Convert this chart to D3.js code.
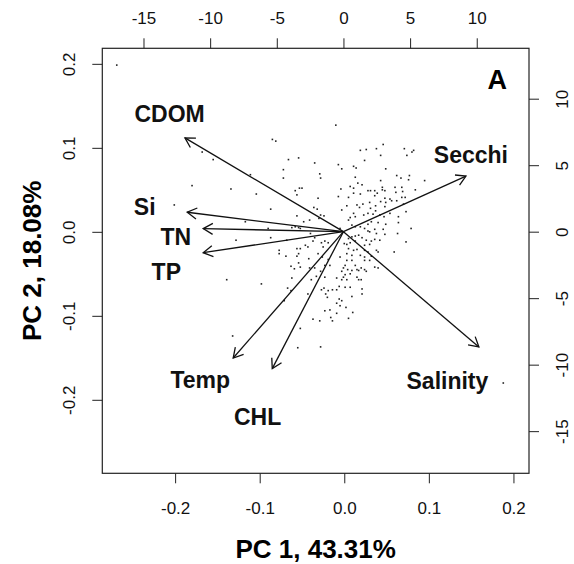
<!DOCTYPE html>
<html>
<head>
<meta charset="utf-8">
<script src="https://cdn.jsdelivr.net/npm/d3@7"></script>
<style>
  body { margin: 0; background: #fff; }
  text { font-family: "Liberation Sans", Arial, Helvetica, sans-serif; }
</style>
</head>
<body>
<div id="chart"></div>
<script>
// PCA scores (primary axes, bottom / left)
var scoreX = [-0.269,0.188,-0.180,-0.201,-0.168,-0.155,
  -0.085,-0.081,-0.066,-0.054,-0.035,-0.072,-0.029,-0.028,-0.072,-0.111,-0.134,-0.104,-0.058,-0.053,-0.050,-0.056,-0.031,
  -0.010,0.019,0.026,0.038,0.046,0.043,0.024,0.071,0.082,0.080,0.074,-0.007,-0.003,0.011,0.014,0.049,0.013,0.062,0.067,0.077,0.076,0.095,0.043,0.016,-0.004,0.007,0.011,0.021,0.028,0.031,0.036,0.039,0.045,0.045,0.048,0.060,0.061,0.068,0.069,0.084,0.019,0.011,-0.007,0.005,0.036,0.048,0.054,0.068,0.072,
  -0.036,-0.032,-0.087,-0.056,-0.028,-0.024,-0.030,-0.041,-0.048,-0.117,-0.090,-0.062,-0.058,-0.054,-0.052,-0.040,-0.087,-0.128,-0.068,-0.035,-0.037,-0.027,-0.023,-0.019,-0.025,-0.046,-0.056,-0.052,-0.043,-0.077,-0.077,-0.054,-0.069,-0.056,-0.042,-0.031,-0.026,-0.054,-0.063,-0.059,-0.052,-0.041,-0.035,-0.023,-0.019,-0.017,-0.028,-0.062,-0.033,-0.023,-0.139,-0.098,-0.039,
  0.003,0.015,0.018,0.022,0.030,0.031,0.037,0.037,0.043,0.049,0.048,0.056,0.062,0.070,0.073,-0.003,0.011,0.007,0.005,0.013,0.023,0.028,0.034,0.042,0.047,0.054,0.064,0.064,0.049,0.040,0.032,0.028,0.024,0.019,0.013,0.009,-0.005,0.028,0.030,0.036,0.038,0.046,0.048,0.063,0.079,0.017,0.021,0.013,0.009,0.005,0.000,0.003,0.007,0.013,0.026,0.032,0.036,0.042,0.024,0.030,0.073,0.005,0.011,0.015,0.024,0.028,0.038,0.040,0.059,0.003,-0.005,0.009,0.019,0.024,0.032,0.003,0.009,0.024,0.030,0.001,0.013,0.036,0.040,-0.001,0.004,0.009,0.015,0.017,0.020,0.024,0.026,-0.003,0.007,0.001,-0.001,-0.003,0.003,0.015,0.017,0.020,-0.009,
  -0.067,-0.063,-0.071,-0.043,-0.027,-0.024,-0.019,-0.014,-0.022,-0.020,-0.023,-0.017,-0.016,-0.014,-0.037,-0.029,-0.052,-0.132,-0.055,-0.028,
  -0.006,0.001,0.007,0.021,0.021,-0.009,-0.006,-0.003,-0.009,0.009,-0.005,0.002,0.010,-0.009,0.005];
var scoreY = [0.1985,-0.180,0.055,0.032,0.095,0.086,
  0.110,0.108,0.086,0.088,0.082,0.074,0.069,0.064,0.064,0.068,0.051,0.045,0.049,0.052,0.052,0.044,0.040,
  0.127,0.097,0.098,0.099,0.104,0.091,0.085,0.099,0.097,0.095,0.091,0.080,0.075,0.078,0.076,0.075,0.065,0.067,0.064,0.067,0.062,0.061,0.061,0.058,0.051,0.054,0.052,0.056,0.049,0.049,0.049,0.046,0.053,0.050,0.049,0.053,0.047,0.053,0.048,0.050,0.045,0.046,0.042,0.041,0.043,0.040,0.039,0.041,0.041,
  0.029,0.027,0.027,0.019,0.020,0.019,0.016,0.014,0.012,0.012,0.004,0.005,0.006,0.005,0.004,-0.002,-0.007,-0.010,-0.010,-0.007,-0.011,-0.013,-0.011,-0.013,-0.018,-0.016,-0.020,-0.020,-0.018,-0.022,-0.026,-0.026,-0.029,-0.029,-0.032,-0.026,-0.030,-0.037,-0.041,-0.044,-0.042,-0.043,-0.043,-0.040,-0.033,-0.040,-0.047,-0.055,-0.053,-0.054,-0.057,-0.062,-0.057,
  0.031,0.032,0.029,0.033,0.035,0.028,0.031,0.025,0.036,0.035,0.030,0.037,0.037,0.033,0.024,0.026,0.022,0.017,0.014,0.018,0.020,0.022,0.021,0.020,0.018,0.022,0.018,0.011,0.009,0.011,0.012,0.009,0.004,0.006,0.006,0.008,0.004,0.001,0.000,0.003,-0.002,0.003,-0.003,-0.002,0.004,-0.004,-0.007,-0.005,-0.006,-0.008,-0.014,-0.015,-0.013,-0.011,-0.010,-0.011,-0.009,-0.010,-0.016,-0.015,-0.012,-0.020,-0.022,-0.021,-0.022,-0.024,-0.022,-0.024,-0.024,-0.026,-0.030,-0.028,-0.028,-0.030,-0.029,-0.034,-0.034,-0.034,-0.034,-0.040,-0.040,-0.042,-0.043,-0.043,-0.045,-0.046,-0.045,-0.046,-0.043,-0.045,-0.047,-0.047,-0.050,-0.051,-0.054,-0.057,-0.057,-0.054,-0.057,-0.057,-0.055,
  -0.067,-0.070,-0.082,-0.074,-0.069,-0.067,-0.070,-0.069,-0.074,-0.078,-0.094,-0.093,-0.102,-0.106,-0.104,-0.106,-0.115,-0.124,-0.138,-0.137,
  -0.065,-0.066,-0.066,-0.068,-0.074,-0.069,-0.080,-0.082,-0.085,-0.077,-0.088,-0.090,-0.096,-0.097,-0.103];

// variable loadings (secondary axes, top / right)
var varNames = ["CDOM","Secchi","Si","TN","TP","Temp","CHL","Salinity"];
var loadX = [-11.89, 9.19, -11.72, -10.52, -10.52, -8.27, -5.34, 10.16];
var loadY = [7.05, 4.18, 1.46, 0.23, -1.58, -9.5, -10.3, -8.67];
var labelX = [-13.04, 9.56, -14.91, -12.57, -13.29, -10.74, -6.44, 7.80];
var labelY = [8.90, 5.77, 1.88, -0.38, -3.01, -11.15, -13.91, -11.20];

var pcTicks = [-0.2, -0.1, 0, 0.1, 0.2];
var ldTicks = [-15, -10, -5, 0, 5, 10];
var xTitle = "PC 1, 43.31%";
var yTitle = "PC 2, 18.08%";
var panel = "A";

const width = 574, height = 564;
const mLeft = 102.3, mRight = 529, mTop = 48.3, mBottom = 473.3;

var svg = d3.select("#chart").append("svg")
  .attr("width", width)
  .attr("height", height);

var x = d3.scaleLinear().domain([-0.2861, 0.2184]).range([mLeft, mRight]);
var y = d3.scaleLinear().domain([-0.2875, 0.2185]).range([mBottom, mTop]);
var x2 = d3.scaleLinear().domain([-18.09, 13.92]).range([mLeft, mRight]);
var y2 = d3.scaleLinear().domain([-18.17, 13.79]).range([mBottom, mTop]);

// axes
var fmt1 = d => d.toFixed(1);
var fmt0 = d => String(d);

var gB = svg.append("g").attr("transform", "translate(0," + mBottom + ")")
  .call(d3.axisBottom(x).tickValues(pcTicks).tickFormat(fmt1).tickSize(10).tickPadding(19));
var gT = svg.append("g").attr("transform", "translate(0," + mTop + ")")
  .call(d3.axisTop(x2).tickValues(ldTicks).tickFormat(fmt0).tickSize(10).tickPadding(14));
var gL = svg.append("g").attr("transform", "translate(" + mLeft + ",0)")
  .call(d3.axisLeft(y).tickValues(pcTicks).tickFormat(fmt1).tickSize(10));
var gR = svg.append("g").attr("transform", "translate(" + mRight + ",0)")
  .call(d3.axisRight(y2).tickValues(ldTicks).tickFormat(fmt0).tickSize(10));

gL.selectAll(".tick text")
  .attr("x", 0).attr("dy", 0)
  .attr("text-anchor", "middle")
  .attr("transform", "translate(-27,0) rotate(-90)");
gR.selectAll(".tick text")
  .attr("x", 0).attr("dy", 0)
  .attr("text-anchor", "middle")
  .attr("transform", "translate(39,0) rotate(-90)");

[gB, gT, gL, gR].forEach(function(g) {
  g.select(".domain").remove();
  g.selectAll(".tick line").attr("stroke", "#222");
  g.selectAll(".tick text")
    .style("font-size", "17px")
    .style("font-family", "'Liberation Sans', Arial, sans-serif")
    .attr("fill", "#111");
});

// plot box
svg.append("rect")
  .attr("x", mLeft).attr("y", mTop)
  .attr("width", mRight - mLeft).attr("height", mBottom - mTop)
  .attr("fill", "none")
  .attr("stroke", "#222")
  .attr("stroke-width", 1.2);

// scores
svg.append("g").selectAll("rect")
  .data(scoreX.map((d, i) => [d, scoreY[i]]))
  .join("rect")
  .attr("x", d => x(d[0]) - 0.8)
  .attr("y", d => y(d[1]) - 0.8)
  .attr("width", 1.6)
  .attr("height", 1.6)
  .attr("fill", "#222");

// loading arrows
var head = 11, ang = Math.PI / 6;
var arrows = svg.append("g").attr("stroke", "#111").attr("stroke-width", 1.3).attr("fill", "none");
varNames.forEach(function(name, i) {
  var x0 = x2(0), y0 = y2(0), x1 = x2(loadX[i]), y1 = y2(loadY[i]);
  var a = Math.atan2(y1 - y0, x1 - x0);
  arrows.append("line")
    .attr("x1", x0).attr("y1", y0)
    .attr("x2", x1).attr("y2", y1);
  arrows.append("path")
    .attr("d", "M" + (x1 - head * Math.cos(a - ang)) + "," + (y1 - head * Math.sin(a - ang)) +
               "L" + x1 + "," + y1 +
               "L" + (x1 - head * Math.cos(a + ang)) + "," + (y1 - head * Math.sin(a + ang)));
  svg.append("text")
    .attr("x", x2(labelX[i]))
    .attr("y", y2(labelY[i]))
    .attr("dy", "0.36em")
    .attr("text-anchor", "middle")
    .style("font-size", "23px")
    .style("font-weight", "bold")
    .attr("fill", "#111")
    .text(name);
});

// panel letter
svg.append("text")
  .attr("x", x(0.181)).attr("y", y(0.1815))
  .attr("dy", "0.36em")
  .attr("text-anchor", "middle")
  .style("font-size", "27px")
  .style("font-weight", "bold")
  .text(panel);

// axis titles
svg.append("text")
  .attr("x", (mLeft + mRight) / 2).attr("y", 557.5)
  .attr("text-anchor", "middle")
  .style("font-size", "26px")
  .style("font-weight", "bold")
  .text(xTitle);
svg.append("text")
  .attr("transform", "translate(40.5," + (mTop + mBottom) / 2 + ") rotate(-90)")
  .attr("text-anchor", "middle")
  .style("font-size", "26px")
  .style("font-weight", "bold")
  .text(yTitle);
</script>
</body>
</html>
